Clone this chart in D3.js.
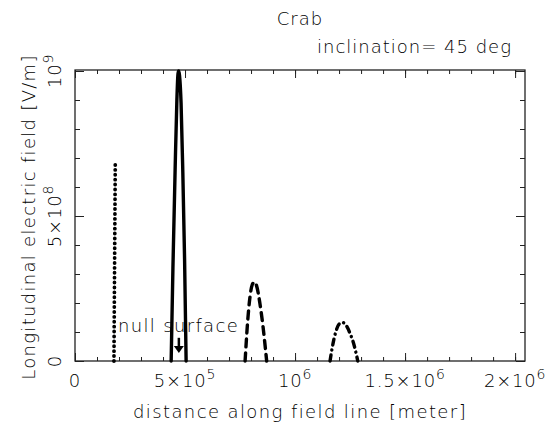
<!DOCTYPE html>
<meta charset="utf-8">
<script src="https://d3js.org/d3.v7.min.js"></script>
<style>
  body { margin: 0; background: #fff; }
  text { font-family: "DejaVu Sans", sans-serif; font-weight: 300; fill: #000; }
</style>
<div id="chart"></div>
<script>
// curves: distance [m], field [V/m]
var dottedX = [1.77e5, 1.80e5, 1.83e5]
var dottedY = [0, 3.4e8, 6.8e8]
var solidX = [4.37e5, 4.45e5, 4.55e5, 4.63e5, 4.68e5, 4.71e5, 4.75e5, 4.82e5, 4.9e5, 4.98e5, 5.05e5]
var solidY = [0, 3.2e8, 6.6e8, 9.0e8, 9.9e8, 1.0e9, 9.85e8, 8.9e8, 6.5e8, 3.5e8, 0]
var dashedX = [7.73e5, 7.85e5, 7.95e5, 8.05e5, 8.15e5, 8.25e5, 8.4e5, 8.55e5, 8.71e5]
var dashedY = [0, 1.4e8, 2.2e8, 2.62e8, 2.72e8, 2.6e8, 2.0e8, 1.15e8, 0]
var dashdotX = [1.159e6, 1.17e6, 1.185e6, 1.2e6, 1.215e6, 1.23e6, 1.25e6, 1.27e6, 1.285e6]
var dashdotY = [0, 0.5e8, 1.0e8, 1.27e8, 1.33e8, 1.25e8, 0.95e8, 0.5e8, 0]

var xMajor = [0, 5e5, 1e6, 1.5e6, 2e6]
var xLabels = [["0", ""], ["5×10", "5"], ["10", "6"], ["1.5×10", "6"], ["2×10", "6"]]
var yMajor = [0, 5e8, 1e9]
var yLabels = [["0", ""], ["5×10", "8"], ["10", "9"]]

var nullX = 1.95e5, nullY = 1.0e8
var arrowX = 4.72e5, arrowTop = 8.0e7, arrowBottom = 2.8e7

var width = 547, height = 431
var svg = d3.select("#chart").append("svg").attr("width", width).attr("height", height)

var x = d3.scaleLinear().domain([0, 2.045e6]).range([75, 525])
var y = d3.scaleLinear().domain([0, 1.00345e9]).range([361, 70])

// inward ticks on all four sides
var xMinor = d3.range(0, 2.01e6, 1e5)
var yMinor = d3.range(0, 1.001e9, 1e8)
function tickAxis(axis, g, ticks, size) {
  g.call(axis.tickValues(ticks).tickSize(size).tickFormat(""))
  g.select(".domain").remove()
  g.selectAll("line").attr("stroke", "#222").attr("stroke-width", 1)
}
tickAxis(d3.axisBottom(x), svg.append("g").attr("transform", "translate(0,361)"), xMinor, -4)
tickAxis(d3.axisBottom(x), svg.append("g").attr("transform", "translate(0,361)"), xMajor, -8)
tickAxis(d3.axisTop(x), svg.append("g").attr("transform", "translate(0,70)"), xMinor, -4)
tickAxis(d3.axisTop(x), svg.append("g").attr("transform", "translate(0,70)"), xMajor, -8)
tickAxis(d3.axisLeft(y), svg.append("g").attr("transform", "translate(75,0)"), yMinor, -5)
tickAxis(d3.axisLeft(y), svg.append("g").attr("transform", "translate(75,0)"), yMajor, -9)
tickAxis(d3.axisRight(y), svg.append("g").attr("transform", "translate(525,0)"), yMinor, -5)
tickAxis(d3.axisRight(y), svg.append("g").attr("transform", "translate(525,0)"), yMajor, -9)

svg.append("rect").attr("x", 75).attr("y", 70).attr("width", 450).attr("height", 291)
  .attr("fill", "none").attr("stroke", "#222").attr("stroke-width", 1.3)

// tick labels with superscripts
svg.append("g").selectAll("text").data(xMajor).enter().append("text")
  .attr("x", function(d){ return x(d) })
  .attr("y", 387)
  .attr("text-anchor", "middle")
  .style("font-size", "18px").style("letter-spacing", "0.8px")
  .each(function(d, i){
    var t = d3.select(this)
    t.append("tspan").text(xLabels[i][0])
    if (xLabels[i][1]) t.append("tspan").attr("dy", -8).style("font-size", "14px").text(xLabels[i][1])
  })

svg.append("g").selectAll("text").data(yMajor).enter().append("text")
  .attr("transform", function(d){ return "translate(61," + y(d) + ") rotate(-90)" })
  .attr("text-anchor", "middle")
  .style("font-size", "18px").style("letter-spacing", "0.8px")
  .each(function(d, i){
    var t = d3.select(this)
    t.append("tspan").text(yLabels[i][0])
    if (yLabels[i][1]) t.append("tspan").attr("dy", -8).style("font-size", "14px").text(yLabels[i][1])
  })

// titles
svg.append("text").attr("x", 300).attr("y", 25).attr("text-anchor", "middle")
  .style("font-size", "18px").style("letter-spacing", "1px").text("Crab")
svg.append("text").attr("x", 512).attr("y", 53).attr("text-anchor", "end")
  .style("font-size", "18px").style("letter-spacing", "1px").text("inclination=\u00A045 deg")
svg.append("text").attr("x", 300).attr("y", 418).attr("text-anchor", "middle")
  .style("font-size", "18px").style("letter-spacing", "1.4px").text("distance along field line [meter]")
svg.append("text").attr("transform", "translate(35,217) rotate(-90)").attr("text-anchor", "middle")
  .style("font-size", "18px").style("letter-spacing", "1.3px").text("Longitudinal electric field [V/m]")

// curves
function drawCurve(xs, ys, dash, curve, w) {
  var pts = xs.map(function(d, i){ return [d, ys[i]] })
  var line = d3.line().x(function(d){ return x(d[0]) }).y(function(d){ return y(d[1]) }).curve(curve)
  svg.append("path").attr("d", line(pts))
    .attr("fill", "none").attr("stroke", "#000").attr("stroke-width", w)
    .attr("stroke-linecap", "round").attr("stroke-dasharray", dash)
}
drawCurve(dottedX, dottedY, "0.1 4.8", d3.curveLinear, 3.8)
drawCurve(solidX, solidY, null, d3.curveMonotoneX, 3.4)
drawCurve(dashedX, dashedY, "8 6", d3.curveMonotoneX, 3.4)
drawCurve(dashdotX, dashdotY, "6 5 0.1 5", d3.curveMonotoneX, 3.4)

// null surface annotation
svg.append("text").attr("x", x(nullX)).attr("y", y(nullY))
  .style("font-size", "18px").style("letter-spacing", "1.35px").text("null surface")
svg.append("line").attr("x1", x(arrowX)).attr("x2", x(arrowX))
  .attr("y1", y(arrowTop)).attr("y2", y(arrowBottom) - 5)
  .attr("stroke", "#000").attr("stroke-width", 2.5)
svg.append("path")
  .attr("d", d3.line()([[x(arrowX) - 5, y(arrowBottom) - 7], [x(arrowX) + 5, y(arrowBottom) - 7], [x(arrowX), y(arrowBottom)]]) + "Z")
  .attr("fill", "#000")
</script>
